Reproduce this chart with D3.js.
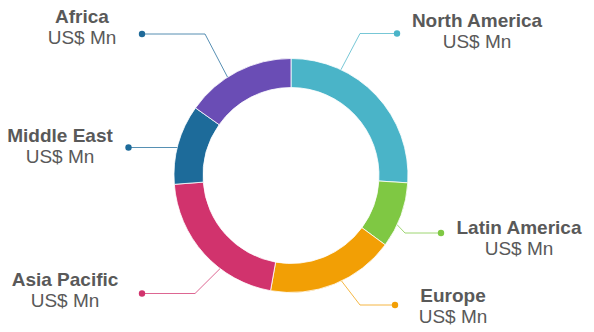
<!DOCTYPE html>
<html><head><meta charset="utf-8">
<script src="https://cdn.jsdelivr.net/npm/d3@7"></script>
<style>html,body{margin:0;padding:0;background:#fff;}svg{display:block;}</style>
</head><body>
<svg id="chart" width="594" height="332"></svg>
<script>
// Data
const regions = ["North America", "Latin America", "Europe", "Asia Pacific", "Middle East", "Africa"];
const shares = [26.0, 9.1, 17.7, 21.0, 11.0, 15.2];
const units = ["US$ Mn", "US$ Mn", "US$ Mn", "US$ Mn", "US$ Mn", "US$ Mn"];
const colors = ["#4ab4c8", "#7fc843", "#f29f05", "#d1336d", "#1d6b9a", "#6a4db5"];
const leaderColors = ["#4ab4c8", "#7fc843", "#f29f05", "#d1336d", "#1d6b9a", "#1f6a99"];

// Layout (label placement)
const cx = 291, cy = 175.5, rOuter = 117, rInner = 88;
const labelLayout = [
  {frac: 0.27, elbow: [360, 33.5], dot: [397, 33.5], text: [477, 27]},
  {frac: 0.65, elbow: [405, 233], dot: [441, 233], text: [519, 234]},
  {frac: 0.44, elbow: [360, 305], dot: [395, 305], text: [453, 302]},
  {frac: 0.36, elbow: [195, 293.5], dot: [142, 293.5], text: [65, 286]},
  {frac: 0.46, elbow: null, dot: [128.5, 147.5], text: [60, 142]},
  {frac: 0.40, elbow: [205, 34], dot: [142, 34], text: [82, 23]}
];

const svg = d3.select("#chart");
const g = svg.append("g").attr("transform", `translate(${cx},${cy})`);

const pie = d3.pie().sort(null).value(d => d)(shares);
const arc = d3.arc().innerRadius(rInner).outerRadius(rOuter);

g.selectAll("path.slice").data(pie).join("path")
  .attr("class", "slice")
  .attr("d", arc)
  .attr("fill", (d, i) => colors[i])
  .attr("stroke", "#ffffff")
  .attr("stroke-opacity", 0.8)
  .attr("stroke-width", 1);

// Leader lines
pie.forEach((d, i) => {
  const L = labelLayout[i];
  const a = d.startAngle + (d.endAngle - d.startAngle) * L.frac;
  const sx = cx + rOuter * Math.sin(a), sy = cy - rOuter * Math.cos(a);
  let pts;
  if (L.elbow) pts = [[sx, sy], L.elbow, L.dot];
  else pts = [[sx, L.dot[1]], L.dot];
  svg.append("path")
    .attr("d", d3.line()(pts))
    .attr("fill", "none")
    .attr("stroke", leaderColors[i])
    .attr("stroke-opacity", 0.75)
    .attr("stroke-width", 1);
  svg.append("circle")
    .attr("cx", L.dot[0]).attr("cy", L.dot[1]).attr("r", 3.2)
    .attr("fill", leaderColors[i]);
  const t = svg.append("text")
    .attr("x", L.text[0]).attr("y", L.text[1])
    .attr("text-anchor", "middle")
    .attr("font-family", "Liberation Sans, Arial, sans-serif")
    .attr("fill", "#595959");
  t.append("tspan").attr("x", L.text[0]).attr("font-weight", "bold").attr("font-size", 19).text(regions[i]);
  t.append("tspan").attr("x", L.text[0]).attr("dy", 20.5).attr("font-size", 19).text(units[i]);
});
</script>
</body></html>
